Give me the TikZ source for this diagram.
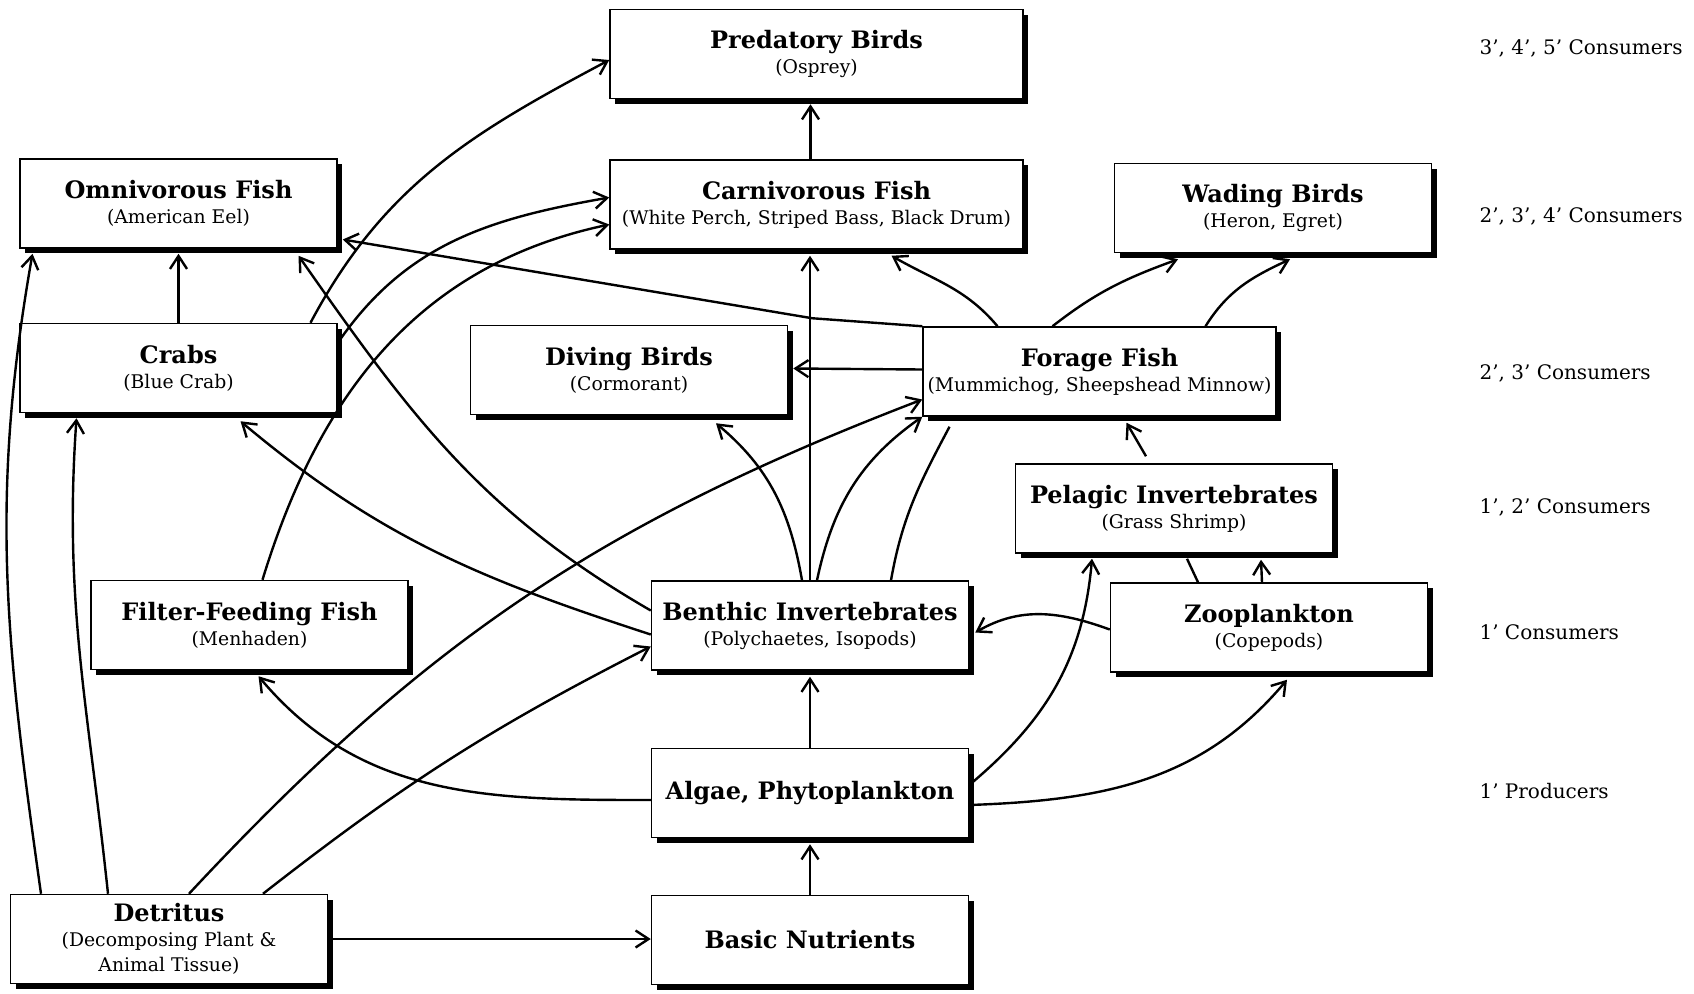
\documentclass[tikz,border=0pt]{standalone}
\usepackage{fontspec}
\setmainfont{DejaVu Serif}
\usetikzlibrary{arrows.meta,shadows}
\begin{document}
\begin{tikzpicture}[x=1pt, y=1pt,
  box/.style={draw, line width=1.5pt, fill=white, minimum width=317pt,
    minimum height=89pt, align=center, inner sep=1pt,
    drop shadow={shadow xshift=5pt, shadow yshift=-5pt, opacity=1, fill=black},
    font=\fontsize{18.8}{25}\selectfont},
  link/.style={draw, line width=2.4pt, -{Straight Barb[length=13pt, width=17pt]}},
  noarrow/.style={draw, line width=2.4pt},
  tier/.style={anchor=west, font=\fontsize{20}{24}\selectfont}]
  \useasboundingbox (0,0) rectangle (1694,-993);
  \node[box, minimum width=413pt] (pred) at (816.5,-54) {{\bfseries\fontsize{24}{28}\selectfont Predatory Birds}\\(Osprey)};
  \node[box, minimum width=413pt] (carn) at (816.5,-204.5) {{\bfseries\fontsize{24}{28}\selectfont Carnivorous Fish}\\(White Perch, Striped Bass, Black Drum)};
  \node[box] (omni) at (178.5,-203.5) {{\bfseries\fontsize{24}{28}\selectfont Omnivorous Fish}\\(American Eel)};
  \node[box] (wade) at (1273,-208) {{\bfseries\fontsize{24}{28}\selectfont Wading Birds}\\(Heron, Egret)};
  \node[box] (crab) at (178.5,-368) {{\bfseries\fontsize{24}{28}\selectfont Crabs}\\(Blue Crab)};
  \node[box] (dive) at (629,-370) {{\bfseries\fontsize{24}{28}\selectfont Diving Birds}\\(Cormorant)};
  \node[box, minimum width=353pt] (forage) at (1099.5,-371.5) {{\bfseries\fontsize{24}{28}\selectfont Forage Fish}\\(Mummichog, Sheepshead Minnow)};
  \node[box] (pelag) at (1174,-508.5) {{\bfseries\fontsize{24}{28}\selectfont Pelagic Invertebrates}\\(Grass Shrimp)};
  \node[box] (filter) at (249.5,-625) {{\bfseries\fontsize{24}{28}\selectfont Filter-Feeding Fish}\\(Menhaden)};
  \node[box] (benth) at (810,-625.5) {{\bfseries\fontsize{24}{28}\selectfont Benthic Invertebrates}\\(Polychaetes, Isopods)};
  \node[box] (zoo) at (1269,-627.5) {{\bfseries\fontsize{24}{28}\selectfont Zooplankton}\\(Copepods)};
  \node[box] (algae) at (810,-793) {\bfseries\fontsize{24}{28}\selectfont Algae, Phytoplankton};
  \node[box] (detr) at (169,-939) {{\bfseries\fontsize{24}{28}\selectfont Detritus}\\(Decomposing Plant \&\\Animal Tissue)};
  \node[box] (nutr) at (810,-940) {\bfseries\fontsize{24}{28}\selectfont Basic Nutrients};
  \node[tier] (t345) at (1476,-48) {3', 4', 5' Consumers};
  \node[tier] (t234) at (1476,-216) {2', 3', 4' Consumers};
  \node[tier] (t23) at (1476,-373) {2', 3' Consumers};
  \node[tier] (t12) at (1476,-507) {1', 2' Consumers};
  \node[tier] (t1) at (1476,-632) {1' Consumers};
  \node[tier] (tp) at (1476,-791) {1' Producers};
  \draw[link] ([xshift=-6pt]carn.north) -- ([xshift=-6pt,yshift=-5pt]pred.south);
  \draw[link] (crab.north) -- ([yshift=-5pt]omni.south);
  \draw[link] ([xshift=-128pt]detr.north) to[out=98, in=-100] ([xshift=-146pt,yshift=-5pt]omni.south);
  \draw[link] ([xshift=-61pt]detr.north) to[out=96, in=-94] ([xshift=-102pt,yshift=-5pt]crab.south);
  \draw[link] ([xshift=20pt]detr.north) to[out=47, in=201] ([yshift=-28pt]forage.west);
  \draw[link] ([xshift=94pt]detr.north) to[out=38, in=207] ([yshift=-21pt]benth.west);
  \draw[link] (detr.east) -- (detr.east -| nutr.west);
  \draw[link] (nutr.north) -- ([yshift=-6pt]algae.south);
  \draw[link] (algae.north) -- ([yshift=-6pt]benth.south);
  \draw[link] ([yshift=-7pt]algae.west) to[out=180, in=-50] ([xshift=9pt,yshift=-6pt]filter.south);
  \draw[link] ([yshift=8pt]algae.east) to[out=40, in=-95] ([xshift=-82pt,yshift=-5pt]pelag.south);
  \draw[link] ([yshift=-12pt]algae.east) to[out=2, in=-130] ([xshift=18pt,yshift=-7pt]zoo.south);
  \draw[link] ([yshift=-2pt]zoo.west) to[out=160, in=30] ([xshift=6pt,yshift=-7pt]benth.east);
  \draw[link] ([xshift=-7pt]zoo.north) -- ([xshift=87pt,yshift=-6pt]pelag.south);
  \draw[noarrow] ([xshift=13pt,yshift=-5pt]pelag.south) -- ([xshift=-71pt]zoo.north);
  \draw[link] ([xshift=-28pt,yshift=7pt]pelag.north) -- ([xshift=27pt,yshift=-6pt]forage.south);
  \draw[link] ([xshift=-102pt]forage.north) to[out=130, in=-30] ([xshift=75pt,yshift=-6pt]carn.south);
  \draw[link] ([xshift=-47pt]forage.north) to[out=38, in=200] ([xshift=-95pt,yshift=-6pt]wade.south);
  \draw[link] ([xshift=106pt]forage.north) to[out=58, in=-155] ([xshift=17pt,yshift=-6pt]wade.south);
  \draw[link] ([yshift=2pt]forage.west) -- ([xshift=5pt,yshift=1.5pt]dive.east);
  \draw[link] (forage.north west) -- ++(-110,8) -- ([xshift=5pt,yshift=-36pt]omni.east);
  \draw[link] ([xshift=-8pt]benth.north) to[out=100, in=-40] ([xshift=87pt,yshift=-8pt]dive.south);
  \draw[link] (benth.north) -- ([yshift=-6pt]benth.north |- carn.south);
  \draw[link] ([xshift=7pt]benth.north) to[out=78, in=-145] (forage.south west);
  \draw[noarrow] ([xshift=81pt]benth.north) to[out=80, in=-118] ([xshift=-150pt,yshift=-10pt]forage.south);
  \draw[link] ([yshift=-9pt]benth.west) to[out=162, in=-40] ([xshift=62pt,yshift=-8pt]crab.south);
  \draw[link] ([yshift=15pt]benth.west) to[out=150, in=-55] ([xshift=120pt,yshift=-7pt]omni.south);
  \draw[link] ([xshift=132pt]crab.north) to[out=62, in=-152] ([yshift=-6pt]pred.west);
  \draw[link] ([xshift=2pt,yshift=28pt]crab.east) to[out=55, in=-170] ([yshift=7pt]carn.west);
  \draw[link] ([xshift=13pt]filter.north) to[out=73, in=-168] ([yshift=-20pt]carn.west);
\end{tikzpicture}
\end{document}
